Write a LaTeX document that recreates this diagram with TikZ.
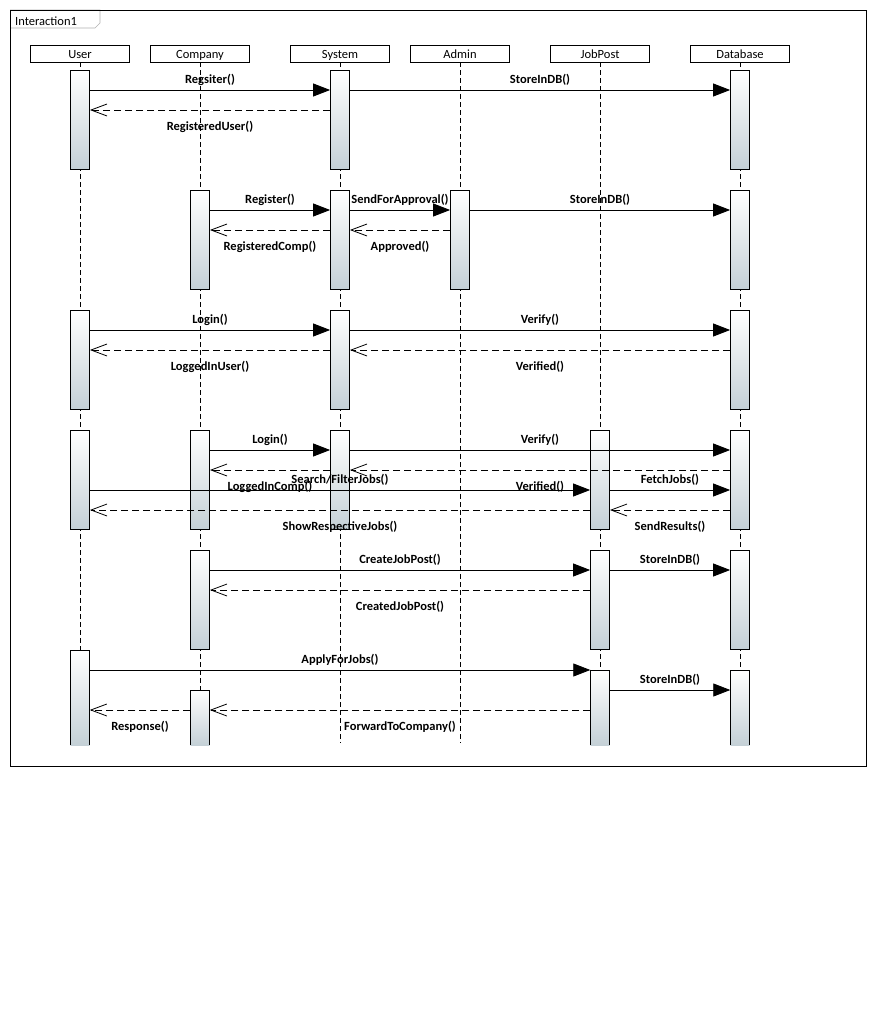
\documentclass[tikz,border=0pt]{standalone}
\usepackage{fontspec}
\setmainfont{Carlito}
\usetikzlibrary{arrows.meta}
\definecolor{actbot}{RGB}{196,208,214}
\begin{document}
\begin{tikzpicture}[x=1pt,y=-1pt,
  head/.style={draw, fill=white, minimum width=99pt, minimum height=17pt, inner sep=0pt,
    text height=10pt, text depth=1pt,
    font=\fontsize{12.5}{12.5}\selectfont, line width=0.8pt},
  actfill/.style={top color=white, bottom color=actbot, minimum width=19pt, inner sep=0pt,
    anchor=north},
  act/.style={actfill, draw, line width=0.8pt},
  life/.style={dash pattern=on 5pt off 3pt, line width=0.8pt},
  call/.style={-{Triangle[length=17pt,width=13pt]}, line width=0.8pt},
  reply/.style={-{Straight Barb[length=16pt,width=12pt,line width=0.8pt]},
    dash pattern=on 7pt off 4pt, line width=0.8pt},
  lbl/.style={font=\bfseries\fontsize{12.5}{12.5}\selectfont, inner sep=0pt},
  up/.style={lbl, midway, yshift=10.5pt},
  dn/.style={lbl, midway, yshift=-16.5pt},
]
% canvas
\fill[white] (0,0) rectangle (877,1020);
\path[use as bounding box] (0,0) rectangle (877,1020);

% interaction frame and its name tab
\draw[gray!60, line width=0.6pt] (10,10) -- (100,10) -- (100,23) -- (95,28) -- (10,28);
\node[anchor=west, inner sep=0pt, font=\fontsize{12.5}{12.5}\selectfont] (title) at (15,21) {Interaction1};
\draw[line width=0.8pt] (10,10) rectangle (866,766);

% lifeline heads
\node[head] (hU) at (80,53.5)  {User};
\node[head] (hC) at (200,53.5) {Company};
\node[head] (hS) at (340,53.5) {System};
\node[head] (hA) at (460,53.5) {Admin};
\node[head] (hJ) at (600,53.5) {JobPost};
\node[head] (hD) at (740,53.5) {Database};

% lifelines
\foreach \h/\x in {hU/80,hC/200,hS/340,hA/460,hJ/600,hD/740}{
  \coordinate (e\h) at (\x,743);
  \draw[life] (\h.south) -- (e\h);
}

% activation bars
\node[act, minimum height=99pt] (aU1) at (80,70) {};
\node[act, minimum height=99pt] (aS1) at (340,70) {};
\node[act, minimum height=99pt] (aD1) at (740,70) {};

\node[act, minimum height=99pt] (aC2) at (200,190) {};
\node[act, minimum height=99pt] (aS2) at (340,190) {};
\node[act, minimum height=99pt] (aA2) at (460,190) {};
\node[act, minimum height=99pt] (aD2) at (740,190) {};

\node[act, minimum height=99pt] (aU3) at (80,310) {};
\node[act, minimum height=99pt] (aS3) at (340,310) {};
\node[act, minimum height=99pt] (aD3) at (740,310) {};

\node[act, minimum height=99pt] (aU4) at (80,430) {};
\node[act, minimum height=99pt] (aC4) at (200,430) {};
\node[act, minimum height=99pt] (aS4) at (340,430) {};
\node[act, minimum height=99pt] (aJ4) at (600,430) {};
\node[act, minimum height=99pt] (aD4) at (740,430) {};

\node[act, minimum height=99pt] (aC5) at (200,550) {};
\node[act, minimum height=99pt] (aJ5) at (600,550) {};
\node[act, minimum height=99pt] (aD5) at (740,550) {};

% bars running past the frame's content area: open at the bottom
\node[actfill, minimum height=95pt] (aU6) at (80,650) {};
\node[actfill, minimum height=75pt] (aJ6) at (600,670) {};
\node[actfill, minimum height=75pt] (aD6) at (740,670) {};
\node[actfill, minimum height=55pt] (aC6) at (200,690) {};
\foreach \a in {aU6,aJ6,aD6,aC6}
  \draw[line width=0.8pt] (\a.south west) -- (\a.north west) -- (\a.north east) -- (\a.south east);

% register user
\draw[call] ([yshift=-20pt]aU1.north east) -- ([yshift=-20pt]aS1.north west) node[up] {Regsiter()};
\draw[call] ([yshift=-20pt]aS1.north east) -- ([yshift=-20pt]aD1.north west) node[up] {StoreInDB()};
\draw[reply] ([yshift=-40pt]aS1.north west) -- ([yshift=-40pt]aU1.north east) node[dn] {RegisteredUser()};

% register company
\draw[call] ([yshift=-20pt]aC2.north east) -- ([yshift=-20pt]aS2.north west) node[up] {Register()};
\draw[call] ([yshift=-20pt]aS2.north east) -- ([yshift=-20pt]aA2.north west) node[up] {SendForApproval()};
\draw[call] ([yshift=-20pt]aA2.north east) -- ([yshift=-20pt]aD2.north west) node[up] {StoreInDB()};
\draw[reply] ([yshift=-40pt]aS2.north west) -- ([yshift=-40pt]aC2.north east) node[dn] {RegisteredComp()};
\draw[reply] ([yshift=-40pt]aA2.north west) -- ([yshift=-40pt]aS2.north east) node[dn] {Approved()};

% user login
\draw[call] ([yshift=-20pt]aU3.north east) -- ([yshift=-20pt]aS3.north west) node[up] {Login()};
\draw[call] ([yshift=-20pt]aS3.north east) -- ([yshift=-20pt]aD3.north west) node[up] {Verify()};
\draw[reply] ([yshift=-40pt]aS3.north west) -- ([yshift=-40pt]aU3.north east) node[dn] {LoggedInUser()};
\draw[reply] ([yshift=-40pt]aD3.north west) -- ([yshift=-40pt]aS3.north east) node[dn] {Verified()};

% company login and job search
\draw[call] ([yshift=-20pt]aC4.north east) -- ([yshift=-20pt]aS4.north west) node[up] {Login()};
\draw[call] ([yshift=-20pt]aS4.north east) -- ([yshift=-20pt]aD4.north west) node[up] {Verify()};
\draw[reply] ([yshift=-40pt]aS4.north west) -- ([yshift=-40pt]aC4.north east) node[dn] {LoggedInComp()};
\draw[reply] ([yshift=-40pt]aD4.north west) -- ([yshift=-40pt]aS4.north east) node[dn] {Verified()};
\draw[call] ([yshift=-60pt]aU4.north east) -- ([yshift=-60pt]aJ4.north west) node[up] {Search/FilterJobs()};
\draw[call] ([yshift=-60pt]aJ4.north east) -- ([yshift=-60pt]aD4.north west) node[up] {FetchJobs()};
\draw[reply] ([yshift=-80pt]aD4.north west) -- ([yshift=-80pt]aJ4.north east) node[dn] {SendResults()};
\draw[reply] ([yshift=-80pt]aJ4.north west) -- ([yshift=-80pt]aU4.north east) node[dn] {ShowRespectiveJobs()};

% job post creation
\draw[call] ([yshift=-20pt]aC5.north east) -- ([yshift=-20pt]aJ5.north west) node[up] {CreateJobPost()};
\draw[call] ([yshift=-20pt]aJ5.north east) -- ([yshift=-20pt]aD5.north west) node[up] {StoreInDB()};
\draw[reply] ([yshift=-40pt]aJ5.north west) -- ([yshift=-40pt]aC5.north east) node[dn] {CreatedJobPost()};

% applying for a job
\draw[call] ([yshift=-20pt]aU6.north east) -- (aJ6.north west) node[up] {ApplyForJobs()};
\draw[call] ([yshift=-20pt]aJ6.north east) -- ([yshift=-20pt]aD6.north west) node[up] {StoreInDB()};
\draw[reply] ([yshift=-40pt]aJ6.north west) -- ([yshift=-20pt]aC6.north east) node[dn] {ForwardToCompany()};
\draw[reply] ([yshift=-20pt]aC6.north west) -- ([yshift=-60pt]aU6.north east) node[dn] {Response()};
\end{tikzpicture}
\end{document}
